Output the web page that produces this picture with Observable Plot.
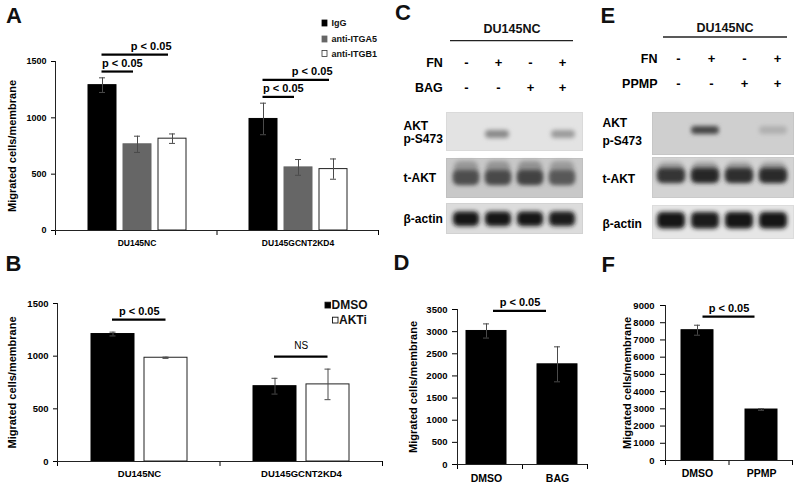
<!DOCTYPE html>
<html lang="en">
<head>
<meta charset="utf-8">
<title>Migration assays and AKT blots</title>
<script src="https://cdn.jsdelivr.net/npm/d3@7"></script>
<script src="https://cdn.jsdelivr.net/npm/@observablehq/plot@0.6"></script>
<style>
html,body{margin:0;padding:0;background:#fff;}
#fig{position:relative;width:800px;height:485px;overflow:hidden;background:#fff;}
</style>
</head>
<body>
<div id="fig"></div>
<script>
// ---------------- data ----------------
const aGroups = ["DU145NC", "DU145GCNT2KD4"];
const aSeries = ["IgG", "anti-ITGA5", "anti-ITGB1"];
const aMeans  = [[1290, 765, 815], [990, 560, 545]];
const aErrors = [[65, 72, 42], [140, 70, 90]];
const aSig = [
  {group: "DU145NC", from: "IgG", to: "anti-ITGA5", label: "p < 0.05", level: 0},
  {group: "DU145NC", from: "IgG", to: "anti-ITGB1", label: "p < 0.05", level: 1},
  {group: "DU145GCNT2KD4", from: "IgG", to: "anti-ITGA5", label: "p < 0.05", level: 0},
  {group: "DU145GCNT2KD4", from: "IgG", to: "anti-ITGB1", label: "p < 0.05", level: 1}
];

const bGroups = ["DU145NC", "DU145GCNT2KD4"];
const bSeries = ["DMSO", "AKTi"];
const bMeans  = [[1210, 985], [715, 732]];
const bErrors = [[18, 6], [75, 145]];
const bSig = [
  {group: "DU145NC", from: "DMSO", to: "AKTi", label: "p < 0.05", level: 0},
  {group: "DU145GCNT2KD4", from: "DMSO", to: "AKTi", label: "NS", level: 0}
];

const dCategories = ["DMSO", "BAG"];
const dMeans  = [3015, 2262];
const dErrors = [160, 395];
const dSig = [{from: "DMSO", to: "BAG", label: "p < 0.05", level: 0}];

const fCategories = ["DMSO", "PPMP"];
const fMeans  = [7565, 2960];
const fErrors = [290, 45];
const fSig = [{from: "DMSO", to: "PPMP", label: "p < 0.05", level: 0}];

// western blots (band intensity 0..1 per lane)
const blotLanes = ["1", "2", "3", "4"];
const blotRows = ["AKT\np-S473", "t-AKT", "β-actin"];
const cTitle = "DU145NC";
const cFactors = ["FN", "BAG"];
const cFN  = ["-", "+", "-", "+"];
const cBAG = ["-", "-", "+", "+"];
const cPAKT  = [0.0, 0.42, 0.0, 0.34];
const cTAKT  = [0.66, 0.68, 0.72, 0.6];
const cActin = [0.96, 0.95, 0.96, 0.94];
const eTitle = "DU145NC";
const eFactors = ["FN", "PPMP"];
const eFN   = ["-", "+", "-", "+"];
const ePPMP = ["-", "-", "+", "+"];
const ePAKT  = [0.0, 0.72, 0.0, 0.16];
const eTAKT  = [0.8, 0.88, 0.84, 0.85];
const eActin = [0.97, 0.94, 0.96, 0.96];

// ---------------- helpers ----------------
const FONT = '"Liberation Sans", Arial, Helvetica, sans-serif';
const fig = document.getElementById("fig");

function place(node, left, top) {
  node.style.position = "absolute";
  node.style.left = left + "px";
  node.style.top = top + "px";
  fig.appendChild(node);
  return node;
}
function styleOf(size) {
  return {fontFamily: FONT, fontSize: size + "px", fontWeight: "bold", color: "#000",
          background: "transparent", overflow: "visible"};
}

function barPanel(p) {
  const faceted = p.groups != null;
  const F = faceted ? {fx: "group"} : {};
  const options = {
    width: p.width, height: p.height,
    marginLeft: p.mL, marginRight: p.mR, marginTop: p.mT, marginBottom: p.mB,
    style: styleOf(p.tickFont),
    x: faceted
      ? {domain: p.series, paddingInner: p.padIn, paddingOuter: p.padOut, axis: null}
      : {domain: p.series, paddingInner: p.padIn, paddingOuter: p.padOut, axis: "bottom", tickSize: 0, tickPadding: p.xPad, label: null},
    y: {domain: p.yDomain, ticks: p.yTicks, tickFormat: d3.format("d"), tickSize: 5, tickPadding: p.yPad, label: null}
  };
  if (faceted) options.fx = {domain: p.groups, padding: 0, axis: "bottom", tickSize: 0, tickPadding: p.xPad, label: null};

  const baseMarks = () => [
    Plot.barY(p.rows, {...F, x: "series", y: "mean", fill: d => p.fill[d.series], stroke: d => p.stroke[d.series], strokeWidth: 1}),
    Plot.ruleX(p.rows, {...F, x: "series", y1: d => d.mean - d.err, y2: d => d.mean + d.err, stroke: "#4a4a4a", strokeWidth: 1}),
    Plot.text(faceted ? [p.groups[0]] : [p.series[0]], {
      ...(faceted ? {fx: d => d} : {}),
      text: () => "Migrated cells/membrane", frameAnchor: "left", textAnchor: "middle", lineAnchor: "middle",
      rotate: -90, dx: p.yLabelDx, fontSize: 11, fontWeight: "bold"
    })
  ];
  const probe = Plot.plot({...options, marks: baseMarks()});
  const xs = probe.scale("x");
  const bw = xs.bandwidth;
  const cap = Math.max(0, (bw - 6) / 2);
  const marks = [...baseMarks(),
    Plot.tickY(p.rows, {...F, x: "series", y: d => d.mean + d.err, insetLeft: cap, insetRight: cap, stroke: "#4a4a4a"}),
    Plot.tickY(p.rows, {...F, x: "series", y: d => d.mean - d.err, insetLeft: cap, insetRight: cap, stroke: "#4a4a4a"})
  ];
  for (const s of p.sig) {
    const i0 = p.series.indexOf(s.from), i1 = p.series.indexOf(s.to);
    const span = p.rows.filter(r => (!faceted || r.group === s.group)
      && p.series.indexOf(r.series) >= i0 && p.series.indexOf(r.series) <= i1);
    const top = d3.max(span, r => r.mean + r.err);
    const lift = p.sigGap + s.level * (p.sigStep || 0);
    const FS = faceted ? {fx: () => s.group} : {};
    marks.push(Plot.ruleY([s], {...FS, y: () => top, x1: () => s.from, x2: () => s.to, dy: -lift,
      insetLeft: p.insetL, insetRight: p.insetR, stroke: "#000", strokeWidth: 2.2}));
    const st = (p.labelStyle && p.labelStyle[s.label]) || {};
    let anchor = "middle", ax = s.from;
    let dx = (xs.apply(s.to) - xs.apply(s.from) + p.insetL - p.insetR) / 2;
    if (p.sigAlign === "byLevel") {
      if (s.level === 0) { anchor = "start"; ax = s.from; dx = p.insetL - bw / 2 + (p.startAdj || 0); }
      else { anchor = "end"; ax = s.to; dx = bw / 2 - p.insetR + (p.endAdj || 0); }
    }
    marks.push(Plot.text([s], {...FS, x: () => ax, y: () => top, text: "label", textAnchor: anchor,
      lineAnchor: "bottom", dx, dy: -lift - (st.gap ?? 4.5), fontSize: st.size ?? 11, fontWeight: st.weight ?? "bold"}));
  }
  const chart = Plot.plot({...options, marks});
  chart.querySelectorAll('[aria-label^="fx-axis"] text, [aria-label^="x-axis"] text')
    .forEach(t => { t.style.fontSize = p.xFont + "px"; });
  place(chart, p.left, p.top);

  // axis lines and boundary ticks
  const n = p.groups ? p.groups.length : p.series.length;
  const overlay = Plot.plot({
    width: p.width, height: p.height,
    marginLeft: p.mL, marginRight: p.mR, marginTop: p.mT, marginBottom: p.mB,
    style: styleOf(p.tickFont),
    x: {domain: [0, n], ticks: d3.range(n + 1), tickSize: 5, tickFormat: () => "", label: null},
    y: {domain: [0, 1], axis: null},
    marks: [Plot.ruleY([0], {stroke: "#222"}), Plot.ruleX([0], {stroke: "#222"})]
  });
  place(overlay, p.left, p.top);
}

function blotStrip(b) {
  const data = blotLanes.map((lane, i) => ({lane, v: b.values[i]}));
  const ink = d3.interpolateRgb(b.bg, "#0e0e0e");
  const mk = [Plot.frame({fill: b.bg, stroke: b.edge})];
  if (b.smear) {
    mk.push(Plot.cell(data, {x: "lane", y: () => b.row, fill: d => ink(d.v * b.smear),
      insetTop: b.smearTop, insetBottom: b.smearBottom, insetLeft: 1, insetRight: 1, rx: 6}));
  }
  mk.push(Plot.cell(data, {x: "lane", y: () => b.row, fill: d => ink(d.v),
    insetTop: b.insetTop, insetBottom: b.insetBottom, rx: b.rx ?? 4}));
  mk.push(Plot.text([b.row], {y: d => d, text: d => d, frameAnchor: "left", textAnchor: "start",
    dx: b.labelDx, dy: b.labelDy || 0, fontSize: 12, fontWeight: "bold", lineHeight: b.lineHeight}));
  const chart = Plot.plot({
    width: b.width, height: b.height,
    marginLeft: b.mL, marginRight: b.mR, marginTop: 0, marginBottom: 0,
    style: styleOf(12),
    x: {domain: blotLanes, paddingInner: b.padIn, paddingOuter: b.padOut, axis: null},
    y: {type: "band", domain: [b.row], padding: 0, axis: null},
    marks: mk
  });
  chart.querySelectorAll('g[aria-label="cell"]').forEach(g => g.setAttribute("filter", "url(#bandBlur)"));
  place(chart, b.left, b.top);
}

function signChart(s) {
  const data = s.factors.flatMap((f, fi) => blotLanes.map((lane, i) => ({lane, factor: f, sign: s.signs[fi][i]})));
  const chart = Plot.plot({
    width: s.width, height: s.height,
    marginLeft: s.mL, marginRight: s.mR, marginTop: 0, marginBottom: 0,
    style: styleOf(12.5),
    x: {type: "point", domain: blotLanes, padding: 0.5, axis: null},
    y: {type: "band", domain: s.factors, padding: 0, axis: null},
    marks: [
      Plot.text(data, {x: "lane", y: "factor", text: "sign", fontSize: 13, fontWeight: "bold"}),
      Plot.text(s.factors, {y: d => d, text: d => d, frameAnchor: "left", textAnchor: "end",
        dx: s.labelDx, fontSize: 12.5, fontWeight: "bold"})
    ]
  });
  place(chart, s.left, s.top);
}

// ---------------- build tables ----------------
const aRows = aGroups.flatMap((g, gi) => aSeries.map((s, si) => ({group: g, series: s, mean: aMeans[gi][si], err: aErrors[gi][si]})));
const bRows = bGroups.flatMap((g, gi) => bSeries.map((s, si) => ({group: g, series: s, mean: bMeans[gi][si], err: bErrors[gi][si]})));
const dRows = dCategories.map((c, i) => ({series: c, mean: dMeans[i], err: dErrors[i]}));
const fRows = fCategories.map((c, i) => ({series: c, mean: fMeans[i], err: fErrors[i]}));

// ---------------- panels ----------------
barPanel({
  left: 0, top: 0, width: 400, height: 250, mL: 55, mR: 22, mT: 61, mB: 20,
  groups: aGroups, series: aSeries, rows: aRows, sig: aSig,
  padIn: 0.21, padOut: 0.86, yDomain: [0, 1500], yTicks: [0, 500, 1000, 1500],
  tickFont: 9, xFont: 8.5, xPad: 9, yPad: 5, yLabelDx: -44,
  sigGap: 6.3, sigStep: 17, insetL: 13.5, insetR: 18, sigAlign: "byLevel", startAdj: 0, endAdj: 3,
  fill: {"IgG": "#000", "anti-ITGA5": "#666", "anti-ITGB1": "#fff"},
  stroke: {"IgG": "#000", "anti-ITGA5": "#666", "anti-ITGB1": "#222"}
});
barPanel({
  left: 0, top: 250, width: 400, height: 235, mL: 57, mR: 18, mT: 53, mB: 24,
  groups: bGroups, series: bSeries, rows: bRows, sig: bSig,
  padIn: 0.196, padOut: 0.617, yDomain: [0, 1500], yTicks: [0, 500, 1000, 1500],
  tickFont: 9.5, xFont: 9.5, xPad: 9, yPad: 5, yLabelDx: -46,
  sigGap: 12.5, insetL: 21, insetR: 21.5,
  labelStyle: {"NS": {weight: "normal", size: 10, gap: 7.5}},
  fill: {"DMSO": "#000", "AKTi": "#fff"},
  stroke: {"DMSO": "#000", "AKTi": "#222"}
});
barPanel({
  left: 400, top: 250, width: 200, height: 235, mL: 57, mR: 13, mT: 59, mB: 21,
  groups: null, series: dCategories, rows: dRows, sig: dSig,
  padIn: 0.434, padOut: 0.126, yDomain: [0, 3500], yTicks: d3.range(0, 3501, 500),
  tickFont: 9.5, xFont: 10.5, xPad: 10, yPad: 5, yLabelDx: -44,
  sigGap: 13, insetL: 27, insetR: 31,
  fill: {"DMSO": "#000", "BAG": "#000"},
  stroke: {"DMSO": "#000", "BAG": "#000"}
});
barPanel({
  left: 600, top: 250, width: 200, height: 235, mL: 65, mR: 8, mT: 55, mB: 25,
  groups: null, series: fCategories, rows: fRows, sig: fSig,
  padIn: 0.5, padOut: 0.242, yDomain: [0, 9000], yTicks: d3.range(0, 9001, 1000),
  tickFont: 9.5, xFont: 10.5, xPad: 9.5, yPad: 6, yLabelDx: -38,
  sigGap: 8.5, insetL: 21.5, insetR: 22.5,
  fill: {"DMSO": "#000", "PPMP": "#000"},
  stroke: {"DMSO": "#000", "PPMP": "#000"}
});

// blots C
signChart({left: 400, top: 50, width: 184, height: 50, mL: 49.8, mR: 4.8,
  factors: cFactors, signs: [cFN, cBAG], labelDx: -7.5});
const cStrip = {left: 400, width: 184, mL: 46, mR: 2, padIn: 0.2, padOut: 0.19, labelDx: -43, lineHeight: 1.15};
blotStrip({...cStrip, top: 112, height: 38, row: blotRows[0], values: cPAKT, bg: "#e3e3e3", edge: "#dadada",
  insetTop: 18, insetBottom: 12, rx: 4, padIn: 0.26, labelDy: 0.5});
blotStrip({...cStrip, top: 158, height: 39, row: blotRows[1], values: cTAKT, bg: "#c8c8c8", edge: "#c0c0c0",
  insetTop: 12, insetBottom: 12, smear: 0.4, smearTop: 3, smearBottom: 14, rx: 5});
blotStrip({...cStrip, top: 203, height: 30, row: blotRows[2], values: cActin, bg: "#dcdcdc", edge: "#d2d2d2",
  insetTop: 8.5, insetBottom: 7, rx: 5});

// blots E
signChart({left: 600, top: 45.5, width: 195, height: 50, mL: 61.5, mR: 1.5,
  factors: eFactors, signs: [eFN, ePPMP], labelDx: -4.5});
const eStrip = {left: 600, width: 195, mL: 52, mR: 2, padIn: 0.17, padOut: 0.1, labelDx: -50, lineHeight: 1.5};
blotStrip({...eStrip, top: 112, height: 42, row: blotRows[0], values: ePAKT, bg: "#cfcfcf", edge: "#c6c6c6",
  insetTop: 14, insetBottom: 20, rx: 4, labelDy: -3});
blotStrip({...eStrip, top: 157, height: 40, row: blotRows[1], values: eTAKT, bg: "#d3d3d3", edge: "#cacaca",
  insetTop: 11, insetBottom: 14, smear: 0.3, smearTop: 5, smearBottom: 16, rx: 5});
blotStrip({...eStrip, top: 205, height: 33, row: blotRows[2], values: eActin, bg: "#e6e6e6", edge: "#dcdcdc",
  insetTop: 7, insetBottom: 9.5, rx: 5});

// ---------------- annotations: letters, blot headers, legends ----------------
const ann = d3.create("svg")
  .attr("width", 800).attr("height", 485).attr("viewBox", "0 0 800 485")
  .attr("font-family", FONT).attr("font-weight", "bold")
  .style("position", "absolute").style("left", "0px").style("top", "0px")
  .style("overflow", "visible").style("pointer-events", "none");
ann.append("defs").append("filter").attr("id", "bandBlur")
  .attr("x", "-30%").attr("y", "-80%").attr("width", "160%").attr("height", "260%")
  .append("feGaussianBlur").attr("stdDeviation", 2.1);

const letters = [["A", 6, 23], ["B", 5.5, 271], ["C", 395, 19.5], ["D", 393.5, 270], ["E", 600.5, 22.7], ["F", 601.5, 272]];
for (const [t, x, y] of letters) {
  ann.append("text").attr("x", x).attr("y", y).attr("font-size", 22).attr("fill", "#111").text(t);
}
const headers = [[cTitle, 512, 32.8, 450, 573, 40.7], [eTitle, 725, 31.5, 663, 787, 37]];
for (const [t, cx, by, x1, x2, ly] of headers) {
  ann.append("text").attr("x", cx).attr("y", by).attr("text-anchor", "middle").attr("font-size", 12.5).attr("fill", "#111").text(t);
  ann.append("line").attr("x1", x1).attr("x2", x2).attr("y1", ly).attr("y2", ly).attr("stroke", "#222").attr("stroke-width", 1.3);
}
// legend A
const aLegendFill = ["#000", "#666", "#fff"];
const aLegendY = [23, 39, 53.5];
aSeries.forEach((s, i) => {
  ann.append("rect").attr("x", 322).attr("y", aLegendY[i] - 3).attr("width", 5).attr("height", 6)
    .attr("fill", aLegendFill[i]).attr("stroke", i === 2 ? "#333" : aLegendFill[i]).attr("stroke-width", 0.8);
  ann.append("text").attr("x", 331.5).attr("y", aLegendY[i] + 3.2).attr("font-size", 9).attr("fill", "#111").text(s);
});
// legend B
const bLegendFill = ["#000", "#fff"];
const bLegendX = [325, 332.5];
const bLegendY = [305, 320];
bSeries.forEach((s, i) => {
  ann.append("rect").attr("x", bLegendX[i]).attr("y", bLegendY[i] - 2.8).attr("width", 5.5).attr("height", 5.8)
    .attr("fill", bLegendFill[i]).attr("stroke", "#111").attr("stroke-width", 0.9);
  ann.append("text").attr("x", bLegendX[i] + 6.5).attr("y", bLegendY[i] + 4.3).attr("font-size", 12).attr("fill", "#111").text(s);
});
fig.appendChild(ann.node());
</script>
</body>
</html>
